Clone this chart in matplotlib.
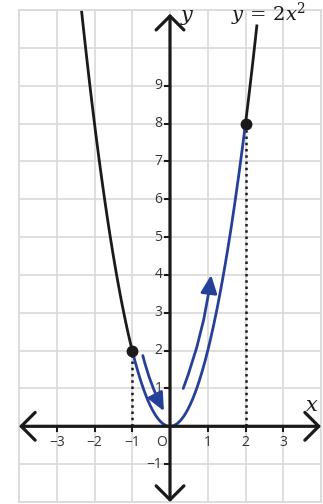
import numpy as np
import matplotlib.pyplot as plt

# data
x_ticks = [-3, -2, -1, 1, 2, 3]
y_ticks = [-1, 1, 2, 3, 4, 5, 6, 7, 8, 9]
pts_x = [-1, 2]
pts_y = [2, 8]
black_left = [-2.4, -1]
black_right = [2, 2.3]
blue_range = [-1, 2]
arrow_down = [(-0.72, 1.87), (-0.16, 0.4)]
arrow_up = [(0.35, 1.0), (1.09, 4.0)]

BLUE = '#26409a'
TXT = '#333333'

fig = plt.figure(figsize=(3.23, 5.04), dpi=100)
ax = fig.add_axes([19 / 323, 2 / 504, 302 / 323, 492 / 504])
ax.set_xlim(-4, 4)
ax.set_ylim(-2, 11)
ax.set_xticks(range(-4, 5))
ax.set_yticks(range(-2, 12))
ax.grid(True, color='#d9d9d9', lw=1.2)
ax.tick_params(length=0, labelbottom=False, labelleft=False)
for s in ax.spines.values():
    s.set_color('#d9d9d9')
    s.set_linewidth(1.2)

# axes with arrows
akw = dict(arrowstyle='<->,head_length=0.5,head_width=0.5', lw=2.3,
           color='#1a1a1a', mutation_scale=20, shrinkA=0, shrinkB=0)
ax.annotate('', xy=(4.0, 0), xytext=(-4.0, 0), arrowprops=akw)
ax.annotate('', xy=(0, 10.9), xytext=(0, -2.0), arrowprops=akw)

# ticks and labels
for x in x_ticks:
    ax.plot([x, x], [0, -0.12], color='#1a1a1a', lw=1.5)
    ax.text(x, -0.22, '\u2212%d' % -x if x < 0 else str(x), ha='center', va='top',
            fontsize=10, color=TXT, family='Open Sans')
ax.text(-0.22, -0.22, 'O', ha='center', va='top', fontsize=10, color=TXT, family='Open Sans')
for y in y_ticks:
    ax.plot([0, -0.12], [y, y], color='#1a1a1a', lw=1.5)
    ax.text(-0.2, y, '\u2212%d' % -y if y < 0 else str(y), ha='right', va='center',
            fontsize=10, color=TXT, family='Open Sans')

# dotted lines
for px, py in zip(pts_x, pts_y):
    ax.plot([px, px], [0, py], color='#1a1a1a', lw=1.8, ls=(0, (1, 1.5)))

# curves
for r in (black_left, black_right):
    xs = np.linspace(r[0], r[1], 100)
    ax.plot(xs, 2 * xs ** 2, color='#1a1a1a', lw=2)
xs = np.linspace(blue_range[0], blue_range[1], 200)
ax.plot(xs, 2 * xs ** 2, color=BLUE, lw=2)

ax.plot(pts_x, pts_y, 'o', color='#1a1a1a', ms=7.5, zorder=5)

# direction arrows
bkw = dict(arrowstyle='-|>,head_length=0.55,head_width=0.25', lw=2, color=BLUE,
           mutation_scale=20, shrinkA=0, shrinkB=0)
ax.annotate('', xy=arrow_down[1], xytext=arrow_down[0],
            arrowprops=dict(bkw, connectionstyle='arc3,rad=0.06'))
ax.annotate('', xy=arrow_up[1], xytext=arrow_up[0],
            arrowprops=dict(bkw, connectionstyle='arc3,rad=0.06'))

# axis names and equation
ax.text(0.45, 10.85, 'y', fontsize=15, style='italic', family='DejaVu Serif',
        ha='center', va='center', color='#1a1a1a')
ax.text(3.75, 0.55, 'x', fontsize=15, style='italic', family='DejaVu Serif',
        ha='center', va='center', color='#1a1a1a')
ax.text(2.6, 10.88, '$y\\,=\\,2x^2$', fontsize=14, ha='center', va='center',
        color='#1a1a1a', math_fontfamily='dejavuserif')

fig.savefig('out.png', dpi=100, facecolor='white')
